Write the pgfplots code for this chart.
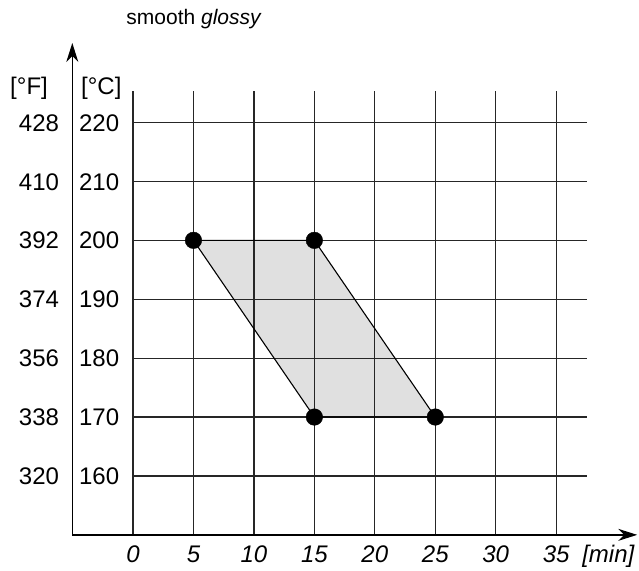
\documentclass[border=0pt]{standalone}
\usepackage{fontspec}
\setmainfont{Liberation Sans}
\usepackage{pgfplots}
\pgfplotsset{compat=1.18}
\usetikzlibrary{arrows.meta}
\tikzset{lbl/.style={font=\fontsize{24}{28}\selectfont, inner sep=0pt},
  axarrow/.style={line width=1.3pt, black, -{Stealth[length=19pt,width=12pt,inset=6pt]}}}
\begin{document}
\begin{tikzpicture}
\begin{axis}[
  x=12.09pt, y=5.89pt,
  xmin=-5.02, xmax=41.7, ymin=150, ymax=233.5,
  hide axis,
  clip=false,
]
% shaded region
\addplot[fill=black!12, draw=none] coordinates {(5,200) (15,200) (25,170) (15,170)} -- cycle;
% grid
\pgfplotsinvokeforeach{0,5,10,15,20,25,30,35}{
  \addplot[black!85, line width=1.2pt] coordinates {(#1,150) (#1,225.3)};
}
\pgfplotsinvokeforeach{160,170,180,190,200,210,220}{
  \addplot[black!85, line width=1.2pt] coordinates {(0,#1) (37.58,#1)};
}
% axes with arrows
\addplot[axarrow] coordinates {(-5.02,150) (41.7,150)};
\addplot[axarrow] coordinates {(-5.02,150) (-5.02,233.5)};
% outline
\addplot[black, line width=1.1pt] coordinates {(5,200) (15,200) (25,170) (15,170) (5,200)};
% points
\addplot[only marks, mark=*, mark size=8.3pt, black] coordinates {(5,200) (15,200) (25,170) (15,170)};
% y labels (C)
\node[lbl, anchor=base west, yshift=-8.6pt] at (axis cs:-4.47,220) {220};
\node[lbl, anchor=base west, yshift=-8.6pt] at (axis cs:-4.47,210) {210};
\node[lbl, anchor=base west, yshift=-8.6pt] at (axis cs:-4.47,200) {200};
\node[lbl, anchor=base west, yshift=-8.6pt] at (axis cs:-4.47,190) {190};
\node[lbl, anchor=base west, yshift=-8.6pt] at (axis cs:-4.47,180) {180};
\node[lbl, anchor=base west, yshift=-8.6pt] at (axis cs:-4.47,170) {170};
\node[lbl, anchor=base west, yshift=-8.6pt] at (axis cs:-4.47,160) {160};
% y labels (F)
\node[lbl, anchor=base east, yshift=-8.6pt] at (axis cs:-6.1,220) {428};
\node[lbl, anchor=base east, yshift=-8.6pt] at (axis cs:-6.1,210) {410};
\node[lbl, anchor=base east, yshift=-8.6pt] at (axis cs:-6.1,200) {392};
\node[lbl, anchor=base east, yshift=-8.6pt] at (axis cs:-6.1,190) {374};
\node[lbl, anchor=base east, yshift=-8.6pt] at (axis cs:-6.1,180) {356};
\node[lbl, anchor=base east, yshift=-8.6pt] at (axis cs:-6.1,170) {338};
\node[lbl, anchor=base east, yshift=-8.6pt] at (axis cs:-6.1,160) {320};
% unit labels
\node[lbl, anchor=base west] at (axis cs:-10.17,224.7) {[°F]};
\node[lbl, anchor=base west] at (axis cs:-4.3,224.7) {[°C]};
% x labels
\pgfplotsinvokeforeach{0,5,10,15,20,25,30,35}{
  \node[lbl, anchor=base, yshift=-28pt] at (axis cs:#1,150) {\itshape #1};
}
\node[lbl, anchor=base west, yshift=-28pt] at (axis cs:37.14,150) {\itshape [min]};
% title
\node[font=\fontsize{21}{25}\selectfont, inner sep=0pt, anchor=base] at (axis cs:5.05,236.7) {smooth \textit{glossy}};
% bounding box
\path (axis cs:-11.0,144.0) rectangle (axis cs:41.85,240.8);
\end{axis}
\end{tikzpicture}
\end{document}
